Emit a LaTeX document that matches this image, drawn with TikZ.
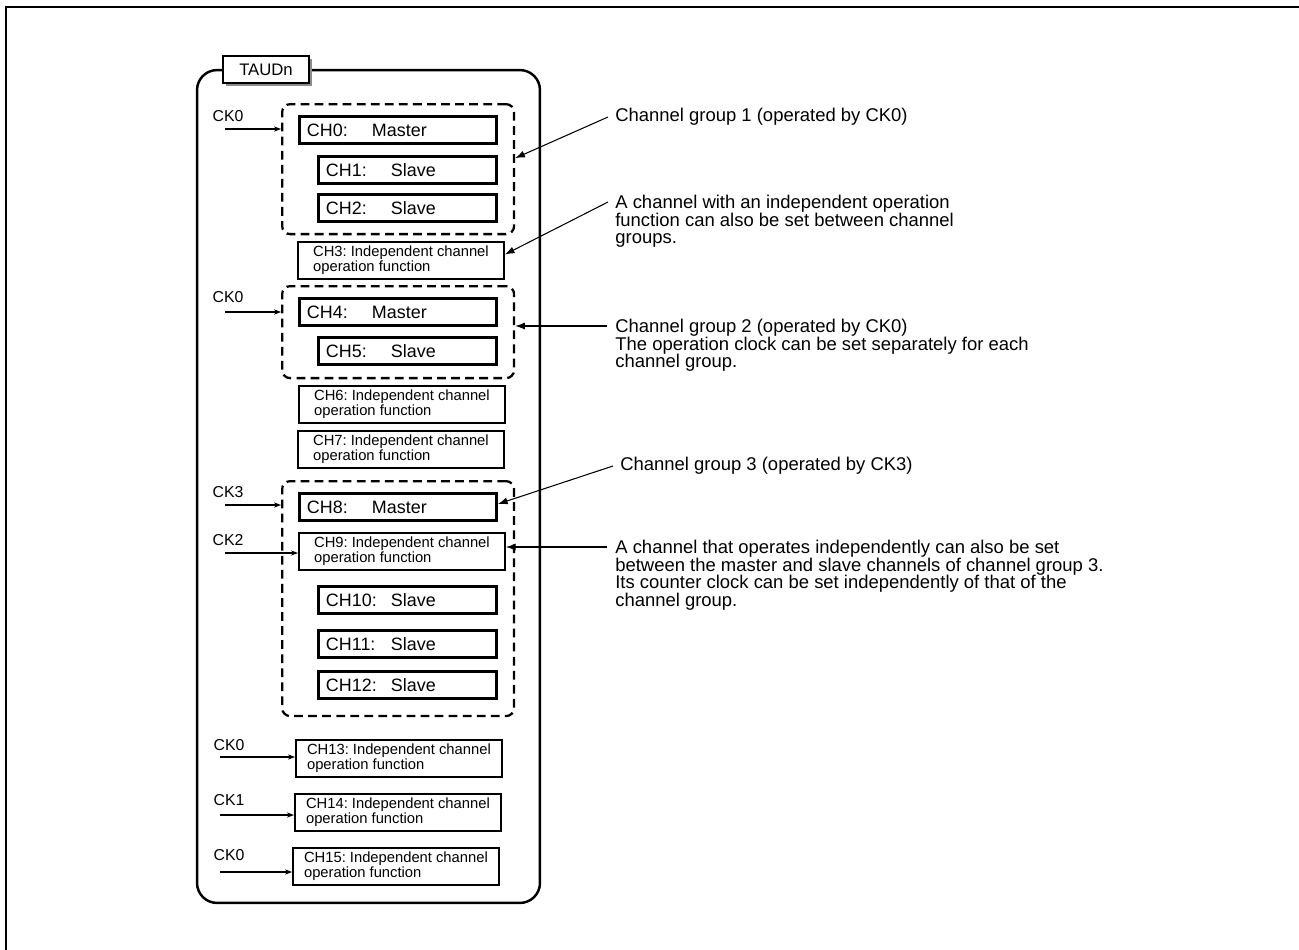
\documentclass[tikz,border=0pt]{standalone}
\usepackage{fontspec}
\setmainfont{Liberation Sans}
\usetikzlibrary{arrows.meta,shadows,calc}

\begin{document}
\frenchspacing
\begin{tikzpicture}[x=0.02cm, y=-0.02cm,
    chbox/.style={draw, line width=1.7pt, anchor=north west, inner xsep=0.15cm, inner ysep=0pt, minimum height=0.54cm, align=left, font=\fontsize{10.2}{12}\selectfont},
    master/.style={chbox, text width=3.64cm},
    slave/.style={chbox, text width=3.26cm},
    indep/.style={draw, line width=1.1pt, anchor=north west, inner sep=0pt, minimum width=4.12cm, minimum height=0.74cm, align=left, font={\fontsize{8.4}{8.5}\selectfont\lineskiplimit=-10pt\lineskip=0pt}},
    group/.style={draw, line width=1.3pt, dash pattern=on 5pt off 3pt, rounded corners=0.16cm, anchor=north west, minimum width=4.64cm, inner sep=0pt},
    cklab/.style={font=\fontsize{9}{10}\selectfont, inner sep=0pt},
    clk/.style={-{Stealth[length=4pt,width=3pt]}, line width=0.6pt},
    note/.style={-{Latex[length=5.5pt,width=4pt]}, line width=0.6pt},
    notetext/.style={anchor=north west, align=left, inner sep=0pt, font={\fontsize{10.5}{10}\selectfont\lineskiplimit=-10pt\lineskip=0pt}}]
    \useasboundingbox (0,0) rectangle (1299,950);

    % Frame
    \draw[line width=1.7pt] (1299,7) -- (6,7) -- (6,950);

    % Timer unit
    \node[draw, line width=1.4pt, rounded corners=0.4cm, minimum width=6.86cm, minimum height=16.66cm, inner sep=0pt] (taud) at (368.5,486.5) {};
    \node[draw, fill=white, line width=1.1pt, minimum width=1.72cm, minimum height=0.54cm, inner sep=0pt, font=\fontsize{9.5}{11}\selectfont,
        drop shadow={shadow xshift=1.5pt, shadow yshift=-1.5pt, fill=black!45, opacity=1}] (taudlab) at (266,69.5) {TAUDn};

    % Channel groups
    \node[group, minimum height=2.6cm] (grp1) at (281,103) {};
    \node[group, minimum height=1.84cm] (grp2) at (281,285) {};
    \node[group, minimum height=4.7cm] (grp3) at (281,480) {};

    % Channels
    \foreach \n/\y in {0/115, 4/297, 8/492}
        \node[master] (ch\n) at (298,\y) {\makebox[37pt][l]{CH\n:}Master};
    \foreach \n/\y in {1/155, 2/193, 5/336, 10/585, 11/629, 12/670}
        \node[slave] (ch\n) at (317,\y) {\makebox[37pt][l]{CH\n:}Slave};
    \foreach \n/\x/\y in {3/297/241, 6/298/385, 7/297/430, 9/298/532, 13/295/739, 14/294/793, 15/292/847}
        \node[indep] (ch\n) at (\x,\y) {CH\n: Independent channel\\operation function};

    % Clock inputs
    \foreach \i/\lab/\lx/\ly/\ax/\ay/\dst in {a/CK0/228/116/225/129/grp1, b/CK0/228/297/225/312/grp2, c/CK3/228/492/225/505/grp3, d/CK2/228/540/225/553/ch9, e/CK0/229/745/220/757/ch13, f/CK1/229/800/220/815/ch14, g/CK0/229/855/220/872/ch15} {
        \node[cklab] (ck\i) at (\lx,\ly) {\lab};
        \coordinate (in\i) at (\ax,\ay);
        \draw[clk] (in\i) -- (in\i -| \dst.west);
    }

    % Notes
    \node[notetext] (ann1) at (615,108) {Channel group 1 (operated by CK0)};
    \node[notetext] (ann2) at (615,195) {A channel with an independent operation\\function can also be set between channel\\groups.};
    \node[notetext] (ann3) at (615,319) {Channel group 2 (operated by CK0)\\The operation clock can be set separately for each\\channel group.};
    \node[notetext] (ann4) at (620,457) {Channel group 3 (operated by CK3)};
    \node[notetext] (ann5) at (615,540) {A channel that operates independently can also be set\\between the master and slave channels of channel group 3.\\Its counter clock can be set independently of that of the\\channel group.};

    \coordinate (p3) at ([shift={(-8,7)}]ann3.north west);
    \coordinate (p5) at ([shift={(-8,7)}]ann5.north west);
    \draw[note] ([shift={(-7,9)}]ann1.north west) -- ([shift={(0,-11)}]grp1.east);
    \draw[note] ([shift={(-7,7)}]ann2.north west) -- ([shift={(0,-6)}]ch3.east);
    \draw[note] (p3) -- (p3 -| grp2.east);
    \draw[note] ([shift={(-7,9)}]ann4.north west) -- ([shift={(0,-3)}]ch8.east);
    \draw[note] (p5) -- (p5 -| ch9.east);
\end{tikzpicture}
\end{document}
